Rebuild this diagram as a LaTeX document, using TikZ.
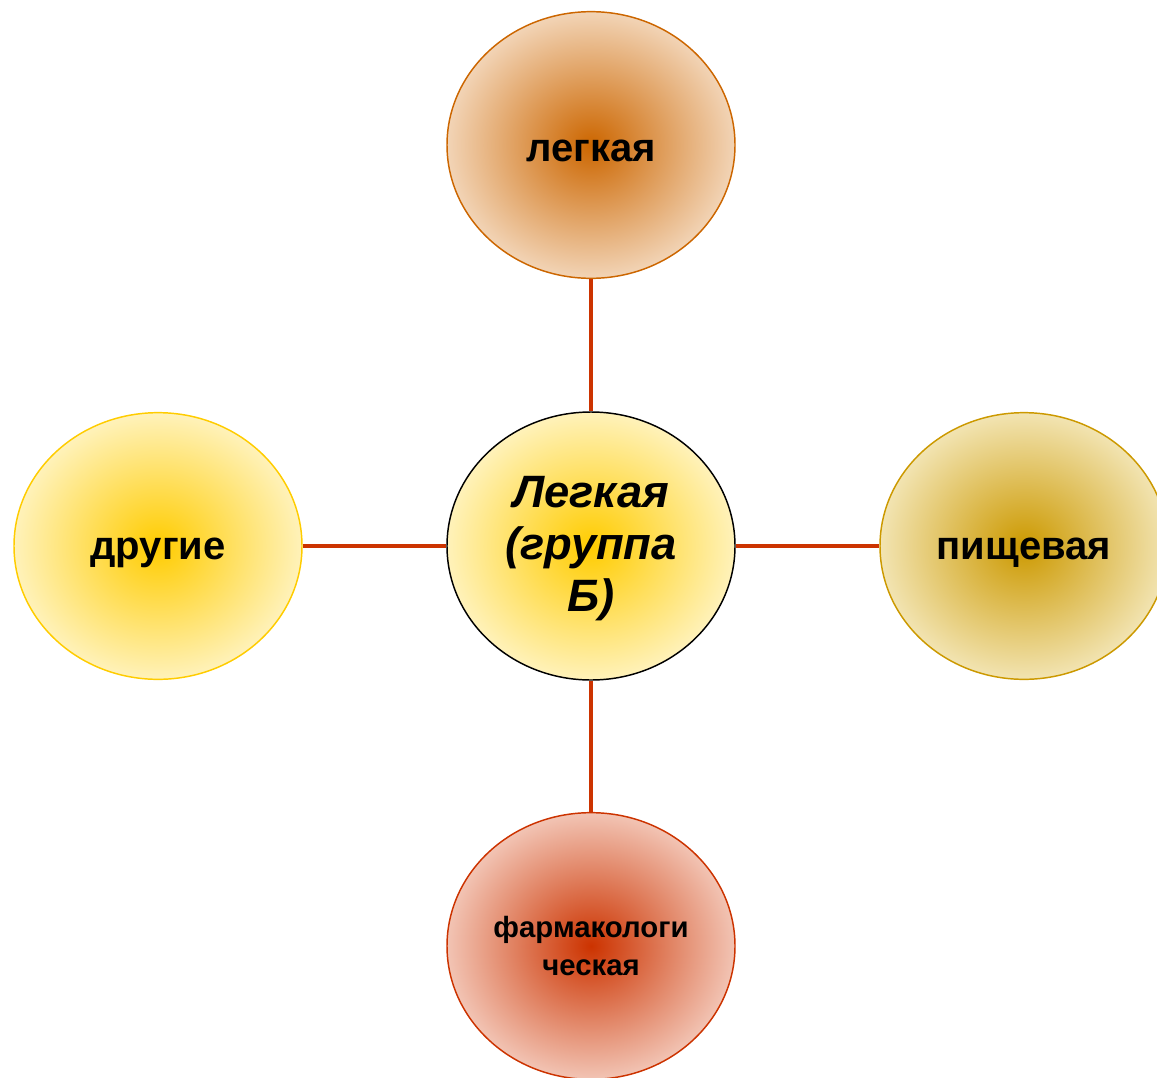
\documentclass[tikz,border=0pt]{standalone}
\usepackage{fontspec}
\setmainfont{Liberation Sans}
\usetikzlibrary{shapes.geometric}
\definecolor{cOrange}{RGB}{204,102,0}
\definecolor{cOrangeL}{RGB}{242,212,182}
\definecolor{cGold}{RGB}{204,153,0}
\definecolor{cGoldL}{RGB}{242,228,178}
\definecolor{cRed}{RGB}{204,51,0}
\definecolor{cRedL}{RGB}{242,196,180}
\definecolor{cYel}{RGB}{255,204,0}
\definecolor{cYelL}{RGB}{255,242,186}
\definecolor{cLine}{RGB}{204,51,0}
\newcommand{\lowr}[2]{\raisebox{-#1}[\height][\depth]{#2}}
\tikzset{
  bubble/.style={ellipse, inner sep=0pt, minimum width=216pt, minimum height=200pt,
    line width=1.1pt, align=center, font=\bfseries\fontsize{30pt}{36pt}\selectfont},
  conn/.style={draw=cLine, line width=3pt}
}
\begin{document}
\begin{tikzpicture}[x=0.75pt,y=-0.75pt]
\useasboundingbox (0,0) rectangle (1157,1078);
\clip (0,0) rectangle (1157,1078);
\node[bubble, draw=cOrange, inner color=cOrange, outer color=cOrangeL] (top) at (591,145) {\lowr{4.5pt}{легкая}};
\node[bubble, minimum height=201pt, draw=black, inner color=cYel, outer color=cYelL,
  font=\bfseries\itshape\fontsize{34pt}{39pt}\selectfont] (c) at (591,546) {\lowr{2.5pt}{\begin{tabular}{@{}c@{}}Легкая\\(группа\\Б)\end{tabular}}};
\node[bubble, draw=cYel, inner color=cYel, outer color=cYelL] (left) at (158,546) {\lowr{5pt}{другие}};
\node[bubble, draw=cGold, inner color=cGold, outer color=cGoldL] (right) at (1024,546) {\lowr{5pt}{пищевая}};
\node[bubble, draw=cRed, inner color=cRed, outer color=cRedL,
  font=\bfseries\fontsize{22pt}{28pt}\selectfont] (bot) at (591,946) {фармакологи\\ческая};
\draw[conn] (top) -- (c);
\draw[conn] (c) -- (bot);
\draw[conn] (left) -- (c);
\draw[conn] (c) -- (right);
\end{tikzpicture}
\end{document}
